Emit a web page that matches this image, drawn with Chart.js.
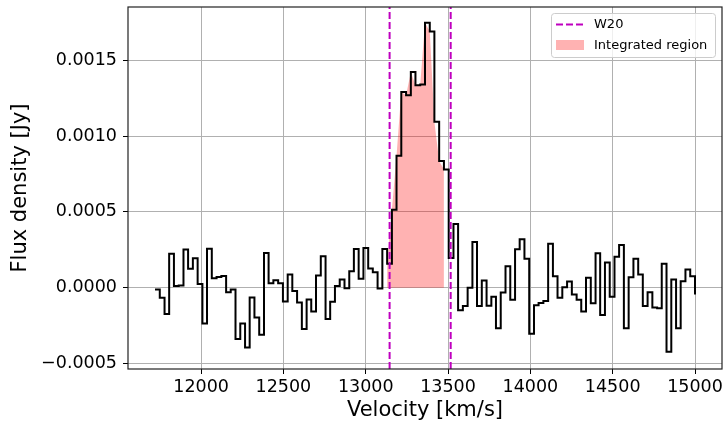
<!DOCTYPE html>
<html>
<head>
<meta charset="utf-8">
<script src="https://cdn.jsdelivr.net/npm/chart.js@4.4.0/dist/chart.umd.min.js"></script>
<style>
  html, body { margin: 0; padding: 0; background: #fff; }
  #wrap { width: 723px; height: 426px; }
</style>
</head>
<body>
<div id="wrap"><canvas id="chart" width="723" height="426"></canvas></div>
<script>
// ─────────────────────────────────────────────
//  Data
// ─────────────────────────────────────────────
const velocity = [
  11720, 11749, 11778, 11806, 11835, 11864, 11893, 11921, 11950, 11979,
  12008, 12036, 12065, 12094, 12123, 12152, 12180, 12209, 12238, 12267,
  12295, 12324, 12353, 12382, 12410, 12439, 12468, 12497, 12526, 12554,
  12583, 12612, 12641, 12669, 12698, 12727, 12756, 12784, 12813, 12842,
  12871, 12900, 12928, 12957, 12986, 13015, 13043, 13072, 13101, 13130,
  13159, 13187, 13216, 13245, 13274, 13302, 13331, 13360, 13389, 13417,
  13446, 13475, 13504, 13533, 13561, 13590, 13619, 13648, 13676, 13705,
  13734, 13763, 13791, 13820, 13849, 13878, 13907, 13935, 13964, 13993,
  14022, 14050, 14079, 14108, 14137, 14165, 14194, 14223, 14252, 14281,
  14309, 14338, 14367, 14396, 14424, 14453, 14482, 14511, 14539, 14568,
  14597, 14626, 14655, 14683, 14712, 14741, 14770, 14798, 14827, 14856,
  14885, 14913, 14942, 14971, 15000
];

const flux = [
  -0.000011, -0.000066, -0.000173, 0.000224, 0.000011, 0.000015, 0.000252, 0.000125, 0.000194, 0.000024,
  -0.000236, 0.000257, 0.000062, 0.000071, 0.000078, -0.000029, -0.000011, -0.000338, -0.000236, -0.000394,
  -0.000064, -0.000197, -0.000310, 0.000230, 0.000030, 0.000049, 0.000030, -0.000090, 0.000087, -0.000022,
  -0.000097, -0.000272, -0.000077, -0.000156, 0.000080, 0.000208, -0.000206, -0.000092, 0.000011, 0.000055,
  -0.000003, 0.000109, 0.000256, 0.000059, 0.000263, 0.000127, 0.000102, -0.000005, 0.000256, 0.000158,
  0.000514, 0.000871, 0.001292, 0.001270, 0.001423, 0.001336, 0.001340, 0.001748, 0.001690, 0.001095,
  0.000836, 0.000780, 0.000197, 0.000420, -0.000149, -0.000121, 0.000000, 0.000301, -0.000121, 0.000048,
  -0.000119, -0.000060, -0.000267, -0.000031, 0.000142, -0.000079, 0.000254, 0.000320, 0.000191, -0.000304,
  -0.000115, -0.000100, -0.000088, 0.000291, 0.000076, -0.000066, 0.000004, 0.000041, -0.000044, -0.000080,
  -0.000157, 0.000066, -0.000103, 0.000227, -0.000180, 0.000166, -0.000059, 0.000204, 0.000282, -0.000267,
  0.000070, 0.000191, 0.000087, -0.000121, -0.000029, -0.000131, -0.000136, 0.000158, -0.000423, 0.000055,
  -0.000267, 0.000043, 0.000120, 0.000076, -0.000044
];

const w20Lines   = [13145, 13516];      // W20 edges [km/s]
const intRange   = [13130, 13475];      // integrated region [km/s]
const xTicks     = [12000, 12500, 13000, 13500, 14000, 14500, 15000];
const yTicks     = [-0.0005, 0, 0.0005, 0.001, 0.0015];
const xLimits    = [11556, 15164];
const yLimits    = [-0.000536, 0.001852];

// ─────────────────────────────────────────────
//  Colours / fonts
// ─────────────────────────────────────────────
const C_MAGENTA = "#bf00bf";
const C_FILL    = "rgba(255,0,0,0.3)";
const gridCol   = "#b0b0b0";
const FONT      = "DejaVu Sans";

// ── build point lists ──
const stepPts = velocity.map((v, i) => ({ x: v, y: flux[i] }));
const fillPts = stepPts.filter((p) => p.x >= intRange[0] && p.x <= intRange[1]);
const w20Sets = w20Lines.map((v) => ({
  data: [{ x: v, y: yLimits[0] }, { x: v, y: yLimits[1] }],
  borderColor: C_MAGENTA,
  borderWidth: 2,
  borderDash: [7, 3],
  pointRadius: 0,
  fill: false,
}));

// ── spines on all four sides ──
const framePlugin = {
  id: "frame",
  afterDatasetsDraw(chart) {
    const { ctx, chartArea: a } = chart;
    ctx.save();
    ctx.strokeStyle = "#222";
    ctx.lineWidth = 1.2;
    ctx.strokeRect(a.left, a.top, a.right - a.left, a.bottom - a.top);
    ctx.restore();
  },
};

// ── matplotlib-style legend in upper right ──
const legendPlugin = {
  id: "mplLegend",
  afterDraw(chart) {
    const ctx = chart.ctx;
    const bx = 551, by = 13, bw = 164, bh = 44;
    ctx.save();
    ctx.beginPath();
    ctx.roundRect(bx + 0.5, by + 0.5, bw, bh, 3);
    ctx.fillStyle = "rgba(255,255,255,0.8)";
    ctx.fill();
    ctx.strokeStyle = "#cccccc";
    ctx.lineWidth = 1;
    ctx.stroke();

    // W20 line sample
    ctx.beginPath();
    ctx.setLineDash([7, 3]);
    ctx.strokeStyle = C_MAGENTA;
    ctx.lineWidth = 2;
    ctx.moveTo(556, 24.5);
    ctx.lineTo(584, 24.5);
    ctx.stroke();
    ctx.setLineDash([]);

    // integrated region patch
    ctx.fillStyle = C_FILL;
    ctx.fillRect(556, 40, 28, 10);

    ctx.fillStyle = "#000";
    ctx.font = "13px '" + FONT + "'";
    ctx.textBaseline = "middle";
    ctx.textAlign = "left";
    ctx.fillText("W20", 594, 25);
    ctx.fillText("Integrated region", 594, 45.5);
    ctx.restore();
  },
};

new Chart(document.getElementById("chart"), {
  type: "line",
  data: {
    datasets: [
      ...w20Sets,
      {
        data: stepPts,
        stepped: true,
        borderColor: "#000",
        borderWidth: 2,
        pointRadius: 0,
        fill: false,
      },
      {
        data: fillPts,
        borderColor: "transparent",
        borderWidth: 0,
        backgroundColor: C_FILL,
        pointRadius: 0,
        fill: "origin",
      },
    ],
  },
  options: {
    responsive: false,
    animation: false,
    events: [],
    layout: { padding: { left: 0, right: 1, top: 7, bottom: 0 } },
    plugins: { legend: { display: false }, tooltip: { enabled: false } },
    scales: {
      x: {
        type: "linear",
        min: xLimits[0],
        max: xLimits[1],
        afterBuildTicks: (s) => { s.ticks = xTicks.map((v) => ({ value: v })); },
        afterFit: (s) => { s.height = 57; s.paddingLeft = 0; s.paddingRight = 0; },
        grid: { color: gridCol, lineWidth: 1, tickLength: 5, tickColor: "#000", tickWidth: 1 },
        border: { display: false },
        ticks: {
          color: "#000",
          font: { family: FONT, size: 17.5 },
          padding: 3,
          maxRotation: 0,
          autoSkip: false,
          callback: (v) => String(v),
        },
        title: {
          display: true,
          text: "Velocity [km/s]",
          color: "#000",
          font: { family: FONT, size: 21 },
          padding: { top: 0, bottom: 3 },
        },
      },
      y: {
        min: yLimits[0],
        max: yLimits[1],
        afterBuildTicks: (s) => { s.ticks = yTicks.map((v) => ({ value: v })); },
        afterFit: (s) => { s.width = 128; s.paddingTop = 0; s.paddingBottom = 0; },
        grid: { color: gridCol, lineWidth: 1, tickLength: 5, tickColor: "#000", tickWidth: 1 },
        border: { display: false },
        ticks: {
          color: "#000",
          font: { family: FONT, size: 17.5 },
          padding: 6,
          callback: (v) => v.toFixed(4).replace("-", "\u2212"),
        },
        title: {
          display: true,
          text: "Flux density [Jy]",
          color: "#000",
          font: { family: FONT, size: 21 },
          padding: { top: 8, bottom: 0 },
        },
      },
    },
  },
  plugins: [framePlugin, legendPlugin],
});
</script>
</body>
</html>
